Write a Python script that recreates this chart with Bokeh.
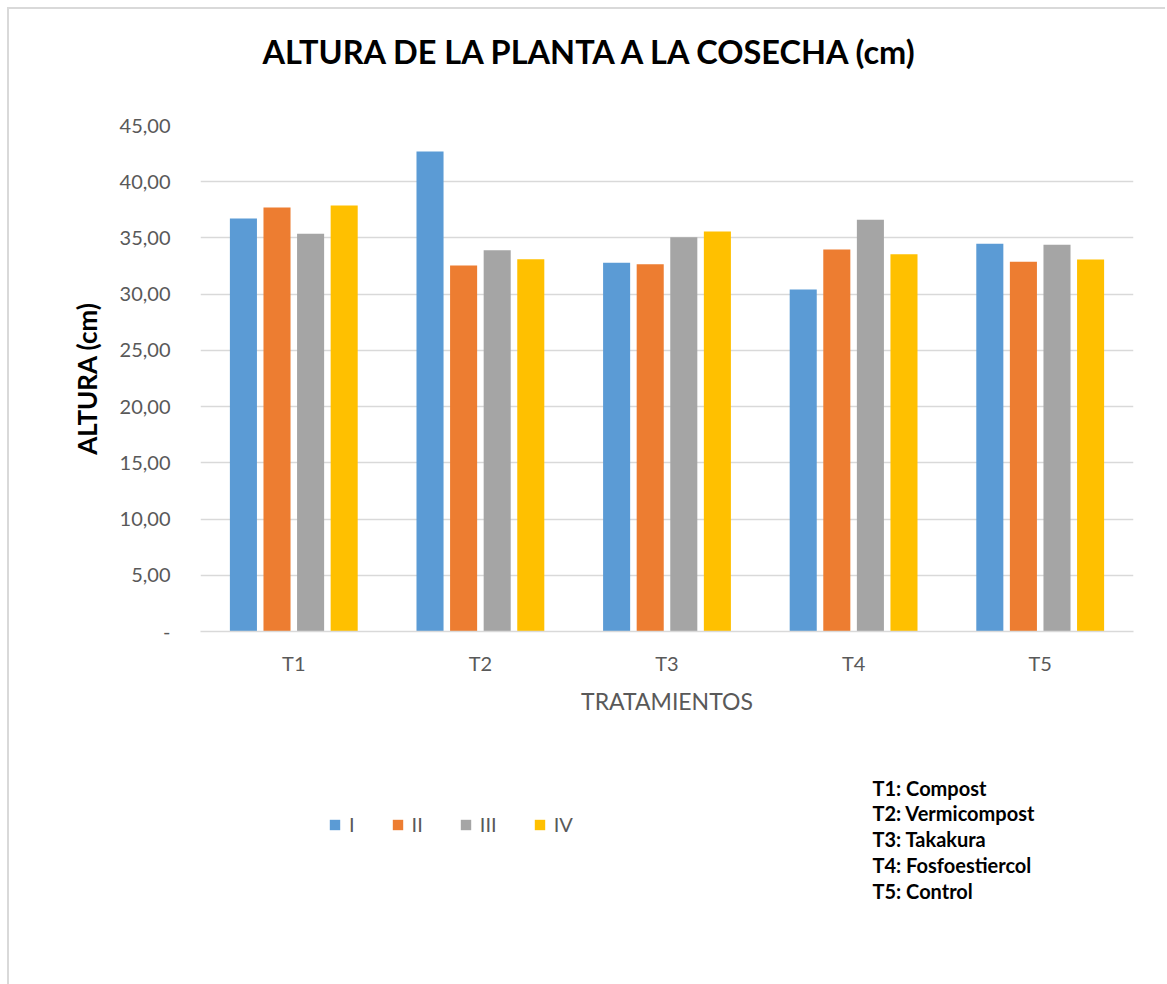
from bokeh.plotting import figure
from bokeh.layouts import column
from bokeh.models import (FactorRange, Legend, LegendItem, Label, CustomJSTickFormatter,
                          FixedTicker, ColumnDataSource, Range1d)
from bokeh.transform import dodge
from bokeh.embed import file_html
from bokeh.resources import INLINE

categories = ["T1", "T2", "T3", "T4", "T5"]
series_names = ["I", "II", "III", "IV"]
serie_I = [36.73, 42.69, 32.79, 30.42, 34.48]
serie_II = [37.71, 32.55, 32.67, 33.97, 32.88]
serie_III = [35.37, 33.91, 35.07, 36.61, 34.39]
serie_IV = [37.89, 33.11, 35.57, 33.56, 33.08]
colors = ["#5B9BD5", "#ED7D31", "#A5A5A5", "#FFC000"]
y_ticks = [0, 5, 10, 15, 20, 25, 30, 35, 40, 45]
treatments = ["T1: Compost", "T2: Vermicompost", "T3: Takakura",
              "T4: Fosfoestiercol", "T5: Control"]
title_text = "ALTURA DE LA PLANTA A LA COSECHA (cm)"

FONT = "Lato"
BORDER = "2px solid #d9d9d9"

src = ColumnDataSource(dict(cat=categories, I=serie_I, II=serie_II, III=serie_III, IV=serie_IV))
offsets = [-0.27, -0.09, 0.09, 0.27]


def blank(height, styles):
    f = figure(width=1158, height=height, output_backend="svg", toolbar_location=None,
               x_range=p.x_range, y_range=Range1d(100, 200), x_axis_type=None,
               y_axis_type=None, min_border=0)
    f.styles = styles
    f.outline_line_color = None
    f.xgrid.grid_line_color = None
    f.ygrid.grid_line_color = None
    return f


# main chart
p = figure(x_range=FactorRange(*categories), y_range=(0, 45),
           width=1158, height=631, output_backend="svg", toolbar_location=None,
           min_border_left=191, min_border_right=34, min_border_top=16, min_border_bottom=109)
p.styles = {"margin-left": "7px", "border-left": BORDER}
p.outline_line_color = None
p.border_fill_color = "white"

for name, off, col in zip(series_names, offsets, colors):
    p.vbar(x=dodge("cat", off, range=p.x_range), top=name, width=0.145,
           source=src, fill_color=col, line_color=None)

p.yaxis.ticker = FixedTicker(ticks=y_ticks)
p.yaxis.formatter = CustomJSTickFormatter(code="""
    return tick == 0 ? '-' : tick.toFixed(2).replace('.', ',');
""")
for ax in (p.xaxis[0], p.yaxis[0]):
    ax.major_tick_line_color = None
    ax.minor_tick_line_color = None
    ax.major_label_text_font = FONT
    ax.major_label_text_color = "#595959"
    ax.major_label_text_font_size = "20px"
p.yaxis.axis_line_color = None
p.yaxis.major_label_standoff = 24
p.yaxis.axis_label = "ALTURA (cm)"
p.yaxis.axis_label_text_font = FONT
p.yaxis.axis_label_text_font_style = "bold"
p.yaxis.axis_label_text_font_size = "26px"
p.yaxis.axis_label_text_color = "black"
p.yaxis.axis_label_standoff = 14

p.xaxis.axis_line_color = "#d9d9d9"
p.xaxis.axis_line_width = 1.5
p.xaxis.major_label_standoff = 13
p.xaxis.axis_label = "TRATAMIENTOS"
p.xaxis.axis_label_text_font = FONT
p.xaxis.axis_label_text_font_style = "normal"
p.xaxis.axis_label_text_font_size = "23px"
p.xaxis.axis_label_text_color = "#595959"
p.xaxis.axis_label_standoff = 9

p.xgrid.grid_line_color = None
p.ygrid.ticker = FixedTicker(ticks=y_ticks)
p.ygrid.grid_line_color = "#d9d9d9"
p.ygrid.grid_line_width = 1.5

# title strip (frame aligned with the main frame by the column layout)
t = blank(102, {"margin-left": "7px", "margin-top": "7px",
                "border-left": BORDER, "border-top": BORDER})
t.add_layout(Label(x=62, y=60, x_units="screen", y_units="screen", text=title_text,
                   text_font=FONT, text_font_style="bold", text_font_size="32.5px",
                   text_color="black", text_align="left", text_baseline="middle"))

# lower strip: legends
q = blank(244, {"margin-left": "7px", "border-left": BORDER})
items = []
for name, off, col in zip(series_names, offsets, colors):
    r = q.vbar(x=dodge("cat", off, range=q.x_range), top=name, width=0.145,
               source=src, fill_color=col, line_color=None)
    items.append(LegendItem(label=name, renderers=[r]))
legend = Legend(items=items, orientation="horizontal", location=(128, 148),
                glyph_width=13, glyph_height=13, label_standoff=8, spacing=36,
                label_width=0, padding=0, margin=0, border_line_color=None,
                background_fill_alpha=0, label_text_font=FONT,
                label_text_font_size="20px", label_text_color="#595959")
q.add_layout(legend, "center")

for i, txt in enumerate(treatments):
    q.add_layout(Label(x=672, y=197 - i * 25.8, x_units="screen", y_units="screen", text=txt,
                       text_font=FONT, text_font_style="bold", text_font_size="20px",
                       text_color="black", text_align="left", text_baseline="middle"))

layout = column(t, p, q, spacing=0)
open("out.html", "w").write(file_html(layout, INLINE))
